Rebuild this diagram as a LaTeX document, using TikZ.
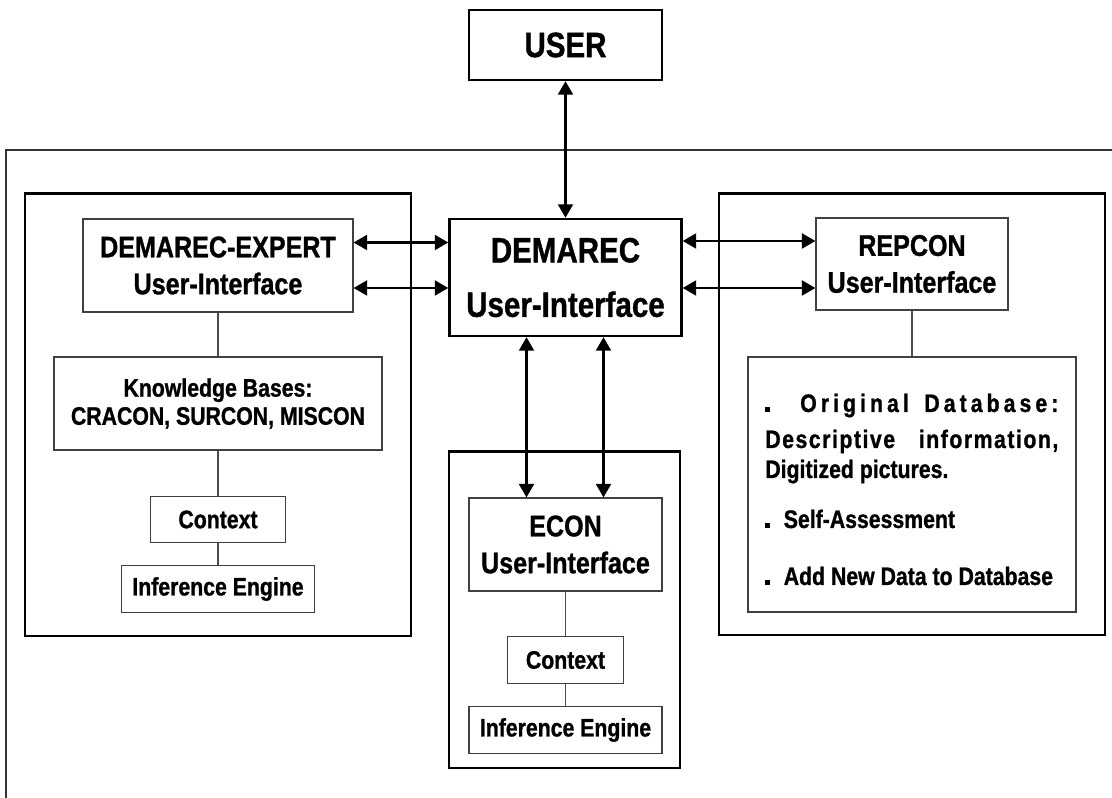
\documentclass[tikz,border=0pt]{standalone}
\usepackage{fontspec}
\setmainfont{Liberation Sans}[FakeStretch=0.84, FakeBold=1]
\usetikzlibrary{arrows.meta}

\newcommand{\sqdot}{\rule{0.09cm}{0.09cm}}

\begin{document}
\begin{tikzpicture}[
    mainbox/.style={
        rectangle,
        draw,
        line width=1.4pt,
        inner sep=0pt,
        align=center,
        font=\fontsize{20}{31}\selectfont\bfseries
    },
    groupbox/.style={rectangle, draw, line width=1.7pt, inner sep=0pt},
    uibox/.style={
        rectangle,
        draw=black!75,
        line width=0.7pt,
        inner sep=0pt,
        minimum height=1.86cm,
        align=center,
        font=\fontsize{17}{21}\selectfont\bfseries
    },
    smallbox/.style={
        rectangle,
        draw=black!75,
        line width=0.7pt,
        inner sep=0pt,
        minimum height=0.93cm,
        align=center,
        font=\fontsize{14.4}{16}\selectfont\bfseries
    },
    dbtext/.style={anchor=base west, inner sep=0pt, font=\fontsize{14.4}{16}\selectfont\bfseries},
    link/.style={draw=black!70, line width=0.7pt},
    arrow/.style={{Triangle[length=0.27cm,width=0.3cm]}-{Triangle[length=0.27cm,width=0.3cm]}, line width=1.3pt}
]
\useasboundingbox (0,0) rectangle (22.24,15.96);

% open outer frame
\draw[line width=1pt, black!80] (0.12,0) -- (0.12,12.96) -- (22.24,12.96);

% the three sub-systems
\node[groupbox, minimum width=7.72cm, minimum height=8.84cm] (expert) at (4.36,7.66) {};
\node[groupbox, minimum width=7.72cm, minimum height=8.82cm] (repcon) at (18.24,7.67) {};
\node[groupbox, minimum width=4.62cm, minimum height=6.32cm] (econ) at (11.29,3.76) {};

\node[mainbox, minimum width=3.86cm, minimum height=1.40cm] (user) at (11.31,15.06) {USER};
\node[mainbox, minimum width=4.64cm, minimum height=2.34cm] (dem) at (11.31,10.41) {DEMAREC\\User-Interface};

% DEMAREC-EXPERT
\node[uibox, minimum width=5.40cm] (deui) at (4.36,10.65) {DEMAREC-EXPERT\\User-Interface};
\node[smallbox, minimum width=6.56cm, minimum height=1.86cm] (kb) at (4.36,7.89) {Knowledge Bases:\\CRACON, SURCON, MISCON};
\node[smallbox, minimum width=2.70cm] (ctxa) at (4.36,5.57) {Context};
\node[smallbox, minimum width=3.86cm] (infa) at (4.36,4.18) {Inference Engine};

% REPCON
\node[uibox, minimum width=3.84cm, minimum height=1.84cm] (rpui) at (18.24,10.68) {REPCON\\User-Interface};
\node[rectangle, draw=black!75, line width=0.7pt, minimum width=6.56cm, minimum height=5.10cm] (db) at (18.24,6.27) {};
\node[dbtext] (orig) at (15.30,7.72) {\makebox[5.86cm][s]{\sqdot\hspace{1.2em}\addfontfeature{LetterSpace=16}Original Database:}};
\node[dbtext] (descr) at (15.30,7.00) {\makebox[5.86cm][s]{\addfontfeature{LetterSpace=6}Descriptive information,}};
\node[dbtext] (digit) at (15.30,6.40) {Digitized pictures.};
\node[dbtext] (selfa) at (15.30,5.40) {\sqdot\hspace{0.55em}Self-Assessment};
\node[dbtext] (addnew) at (15.30,4.26) {\sqdot\hspace{0.55em}Add New Data to Database};

% ECON
\node[uibox, minimum width=3.86cm] (ecui) at (11.31,5.07) {ECON\\User-Interface};
\node[smallbox, minimum width=2.32cm] (ctxb) at (11.31,2.76) {Context};
\node[smallbox, minimum width=3.86cm] (infb) at (11.31,1.36) {Inference Engine};

\draw[link] (deui) -- (kb) -- (ctxa) -- (infa);
\draw[link] (rpui) -- (db);
\draw[link] (ecui) -- (ctxb) -- (infb);

\draw[arrow] (user.south) -- (user.south |- dem.north);
\draw[arrow] ([yshift=0.46cm]deui.east) -- ([yshift=0.46cm]deui.east -| dem.west);
\draw[arrow] ([yshift=-0.45cm]deui.east) -- ([yshift=-0.45cm]deui.east -| dem.west);
\draw[arrow] ([yshift=0.46cm]rpui.west -| dem.east) -- ([yshift=0.46cm]rpui.west);
\draw[arrow] ([yshift=-0.48cm]rpui.west -| dem.east) -- ([yshift=-0.48cm]rpui.west);
\draw[arrow] ([xshift=-0.78cm]dem.south) -- ([xshift=-0.78cm]dem.south |- ecui.north);
\draw[arrow] ([xshift=0.76cm]dem.south) -- ([xshift=0.76cm]dem.south |- ecui.north);

\end{tikzpicture}
\end{document}
